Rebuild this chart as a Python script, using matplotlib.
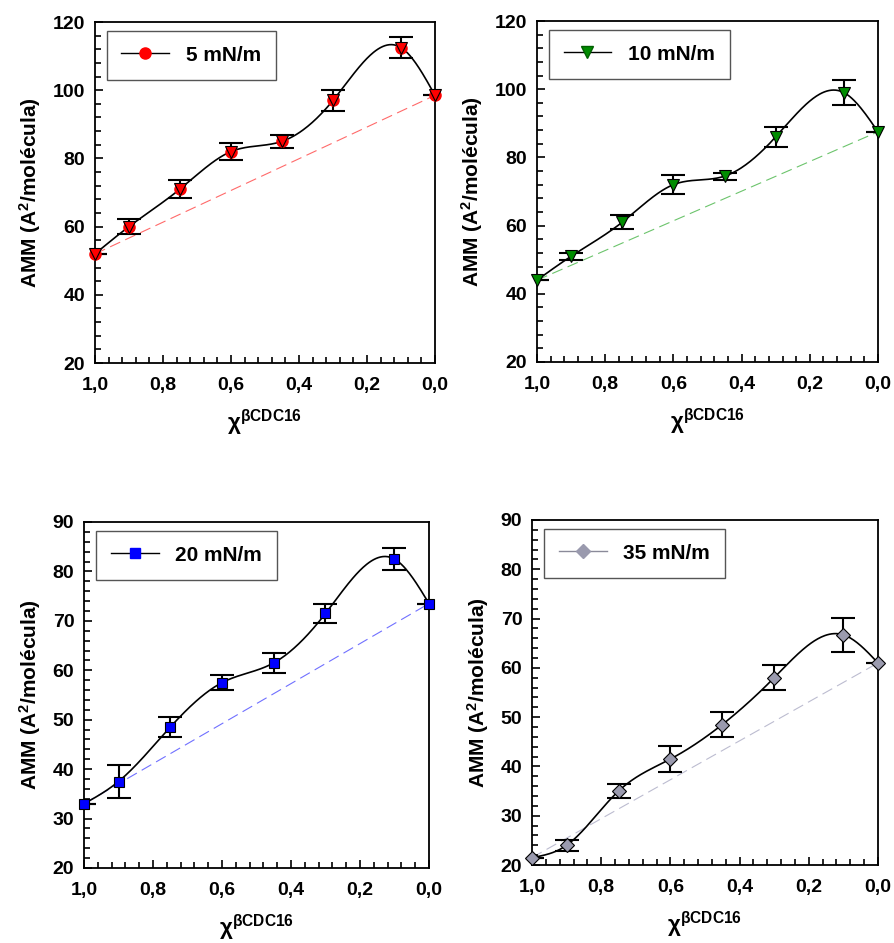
import numpy as np
import matplotlib
matplotlib.use('Agg')
import matplotlib.pyplot as plt
from matplotlib.ticker import MultipleLocator, FuncFormatter

plt.rcParams['font.family'] = ['Liberation Sans', 'DejaVu Sans']
plt.rcParams['font.weight'] = 'bold'
plt.rcParams['mathtext.fontset'] = 'custom'
plt.rcParams['mathtext.rm'] = 'Liberation Sans:bold'
plt.rcParams['mathtext.bf'] = 'Liberation Sans:bold'
plt.rcParams['mathtext.it'] = 'Liberation Sans:bold'
plt.rcParams['mathtext.sf'] = 'Liberation Sans:bold'

# fraccion molar de beta-CDC16
x = [1.0, 0.9, 0.75, 0.6, 0.45, 0.3, 0.1, 0.0]

amm_5 = [52, 60, 71, 82, 85, 97, 112.5, 98.5]
err_5 = [0, 2.2, 2.7, 2.5, 2.0, 3.0, 3.0, 0]
amm_10 = [44, 51, 61, 72, 74.5, 86, 99, 87.5]
err_10 = [0, 1.0, 2.0, 2.7, 1.0, 3.0, 3.7, 0]
amm_20 = [33, 37.5, 48.5, 57.5, 61.5, 71.5, 82.5, 73.5]
err_20 = [0, 3.4, 2.0, 1.5, 2.0, 2.0, 2.3, 0]
amm_35 = [21.5, 24, 35, 41.5, 48.5, 58, 66.7, 61]
err_35 = [0, 1.1, 1.5, 2.7, 2.6, 2.5, 3.4, 0]

labels = ['5 mN/m', '10 mN/m', '20 mN/m', '35 mN/m']


def spline(xs, ys, n=300):
    # natural cubic spline through the points
    xs = np.asarray(xs, float)
    ys = np.asarray(ys, float)
    order = np.argsort(xs)
    xs, ys = xs[order], ys[order]
    m = len(xs)
    h = np.diff(xs)
    A = np.zeros((m, m))
    b = np.zeros(m)
    A[0, 0] = A[-1, -1] = 1
    for i in range(1, m - 1):
        A[i, i - 1] = h[i - 1]
        A[i, i] = 2 * (h[i - 1] + h[i])
        A[i, i + 1] = h[i]
        b[i] = 3 * ((ys[i + 1] - ys[i]) / h[i] - (ys[i] - ys[i - 1]) / h[i - 1])
    c = np.linalg.solve(A, b)
    xx = np.linspace(xs[0], xs[-1], n)
    yy = np.empty_like(xx)
    for k, xv in enumerate(xx):
        i = min(np.searchsorted(xs, xv, side='right') - 1, m - 2)
        d = xv - xs[i]
        bi = (ys[i + 1] - ys[i]) / h[i] - h[i] * (2 * c[i] + c[i + 1]) / 3
        di = (c[i + 1] - c[i]) / (3 * h[i])
        yy[k] = ys[i] + bi * d + c[i] * d ** 2 + di * d ** 3
    return xx, yy


W, H = 895, 943
fig = plt.figure(figsize=(W / 100, H / 100), dpi=100)

# (left, right, top, bottom) in pixels
boxes = [(95, 435, 22, 363), (537, 878, 21, 362),
         (84, 429, 522, 868), (532, 878, 520, 865)]
series = [(amm_5, err_5), (amm_10, err_10), (amm_20, err_20), (amm_35, err_35)]
markers = ['v', 'v', 's', 'D']
faces = ['#ff0000', '#008c00', '#0000ff', '#9a9aae']
dash_cols = ['#ff6a6a', '#6cc46c', '#7070ff', '#bcbcd0']
ylims = [(20, 120, 20, 4), (20, 120, 20, 4), (20, 90, 10, 2), (20, 90, 10, 2)]

comma = FuncFormatter(lambda v, p: ('%.1f' % v).replace('.', ','))

for k in range(4):
    l, r, t, btm = boxes[k]
    ax = fig.add_axes([l / W, 1 - btm / H, (r - l) / W, (btm - t) / H])
    y, e = series[k]

    # ideal mixing line
    ax.plot([x[0], x[-1]], [y[0], y[-1]], color=dash_cols[k], lw=0.8,
            dashes=(10, 5), zorder=1)
    xx, yy = spline(x, y)
    ax.plot(xx, yy, color='black', lw=1.2, zorder=2)
    ax.errorbar(x, y, yerr=e, fmt='none', ecolor='black', elinewidth=1.5,
                capsize=8.5, capthick=1.5, zorder=3)
    if k == 0:
        ax.plot(x, y, 'o', ms=8, mfc='#ff0000', mec='#ff0000', zorder=4,
                clip_on=False)
    ax.plot(x, y, markers[k], ms=8 if k < 2 else 7, mfc=faces[k],
            mec='black', mew=0.8, zorder=5, clip_on=False)

    # legend handle
    ax.plot([], [], '-', color='black' if k < 3 else '#8a8a99', lw=1,
            marker='o' if k == 0 else markers[k], ms=8 if k < 2 else 7,
            mfc=faces[k], mec=faces[k] if k != 1 else '#006000',
            label=labels[k])
    leg = ax.legend(loc='upper left', bbox_to_anchor=(0.035, 0.975),
                    fancybox=False, framealpha=1, edgecolor='#555555',
                    handlelength=2.3, borderpad=0.7, handletextpad=0.8,
                    handleheight=0.9,
                    prop={'size': 15, 'weight': 'bold'}, borderaxespad=0)
    leg.get_frame().set_linewidth(1.0)

    ymin, ymax, maj, mnr = ylims[k]
    ax.set_xlim(1.0, 0.0)
    ax.set_ylim(ymin, ymax)
    ax.xaxis.set_major_locator(MultipleLocator(0.2))
    ax.xaxis.set_minor_locator(MultipleLocator(0.04))
    ax.yaxis.set_major_locator(MultipleLocator(maj))
    ax.yaxis.set_minor_locator(MultipleLocator(mnr))
    ax.xaxis.set_major_formatter(comma)
    ax.tick_params(which='both', direction='in', top=False, right=False,
                   labelsize=14, width=1.2)
    ax.tick_params(which='major', length=6)
    ax.tick_params(which='minor', length=4)
    ax.tick_params(axis='x', pad=10)
    ax.tick_params(axis='y', pad=7)
    for s in ax.spines.values():
        s.set_linewidth(1.3)
    for lab in ax.get_xticklabels() + ax.get_yticklabels():
        lab.set_fontweight('bold')

    ax.set_xlabel('χ$^{βCDC16}$', fontsize=16, fontweight='bold',
                  labelpad=10)
    ax.set_ylabel('AMM (A$^{2}$/molécula)', fontsize=15, fontweight='bold',
                  labelpad=7)

fig.savefig('out.png', dpi=100)
